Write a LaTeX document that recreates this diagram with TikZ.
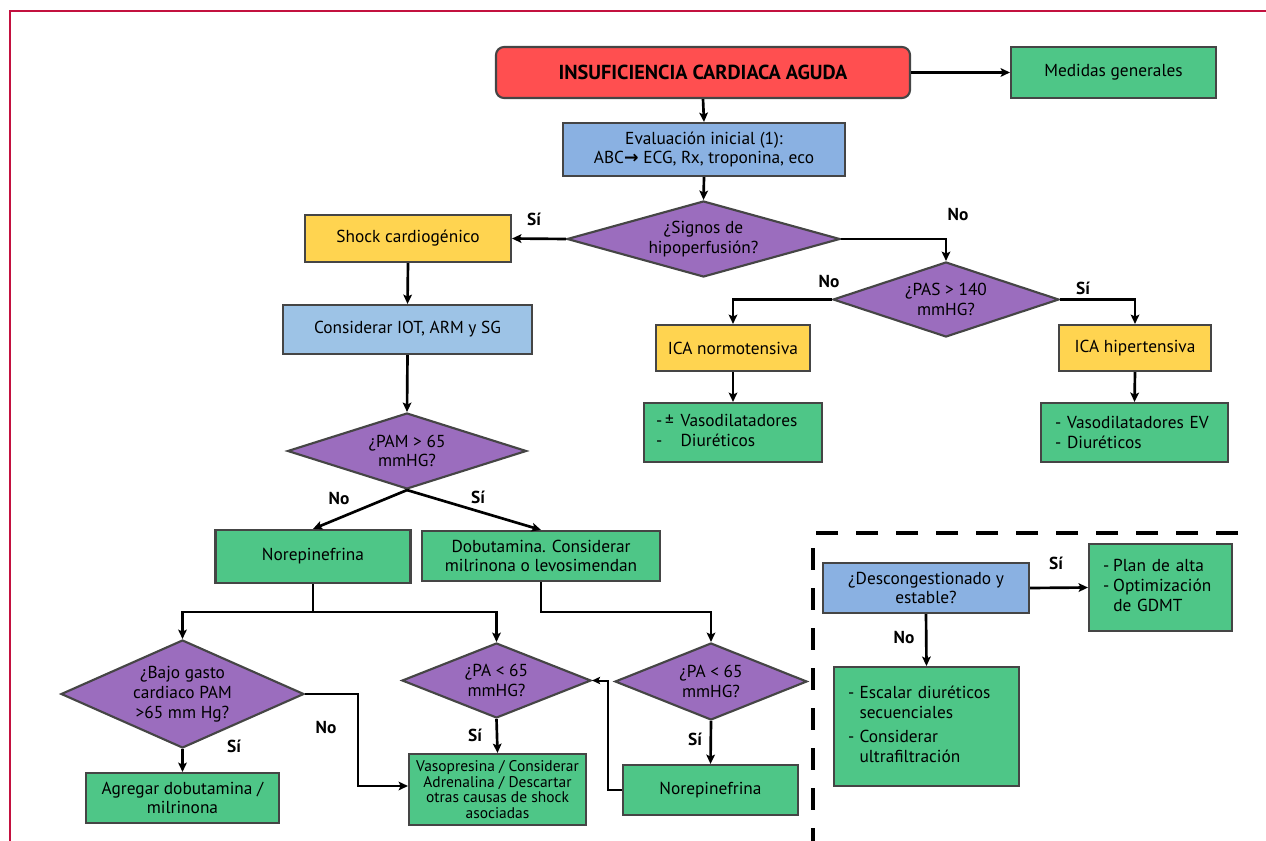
\documentclass[tikz,border=0pt]{standalone}
\usepackage{fontspec}
\setmainfont{PT Sans}
\newfontfamily\symfont{DejaVu Sans}
\usetikzlibrary{shapes.geometric,arrows.meta}

\definecolor{boxred}{HTML}{FF4F50}
\definecolor{boxgreen}{HTML}{4EC687}
\definecolor{boxpurple}{HTML}{9B6DBE}
\definecolor{boxyellow}{HTML}{FFD450}
\definecolor{boxblue}{HTML}{8AB1E2}
\definecolor{boxlight}{HTML}{9DC3E6}
\definecolor{edge}{HTML}{454545}
\definecolor{crimson}{HTML}{C3113F}

\newcommand\fs{\fontsize{13}{14.8}\selectfont}
\newcommand\fssmall{\fontsize{11.6}{11.8}\selectfont}
\newcommand\fstitle{\fontsize{15.2}{17}\selectfont\bfseries}

\tikzset{
  sz/.style 2 args={minimum width=#1*0.75pt, minimum height=#2*0.75pt},
  base/.style={draw=edge, line width=1.6pt, inner sep=0pt, align=center, font=\fs},
  gbox/.style={base, fill=boxgreen},
  ybox/.style={base, fill=boxyellow},
  bbox/.style={base, fill=boxblue},
  lbox/.style={base, fill=boxlight},
  rbox/.style={base, fill=boxred, rounded corners=6pt, font=\fstitle},
  dia/.style={diamond, draw=edge, line width=1.6pt, fill=boxpurple, inner sep=0pt},
  dtext/.style={align=center, font=\fs, inner sep=0pt},
  list/.style={align=left, text width=#1*0.75pt},
  link/.style={line width=2pt, -{Stealth[length=7pt,width=6.5pt,inset=1.5pt]}},
  plain/.style={line width=2pt},
  ans/.style={font=\fs\bfseries, inner sep=0pt},
  frame/.style={draw=crimson, line width=2.2pt},
  zone/.style={line width=2.3pt, dash pattern=on 16.5pt off 13.5pt},
}

\begin{document}
\begin{tikzpicture}[x=0.75pt,y=-0.75pt]
\useasboundingbox (0,0) rectangle (1266,841);

% page frame
\draw[frame] (9,11) -- (1266,11);
\draw[frame] (10,11) -- (10,841);

% boxes of the main flow
\node[rbox, sz={414}{51}] (red) at (703,72.5) {INSUFICIENCIA CARDIACA AGUDA};
\node[gbox, sz={205}{51}] (med) at (1113.5,72.5) {Medidas generales};
\node[bbox, sz={282}{53}] (eval) at (704,149.5) {Evaluación inicial (1):\\ABC{\symfont\bfseries→} ECG, Rx, troponina, eco};
\node[dia, sz={273}{76}] (sig) at (703.5,239) {};
\node[dtext] (sigT) at (sig) {¿Signos de\\hipoperfusión?};
\node[ybox, sz={206}{47}] (shock) at (408,238.5) {Shock cardiogénico};
\node[lbox, sz={249}{49}] (cons) at (407.5,329.5) {Considerar IOT, ARM y SG};

% hemodynamic branch
\node[dia, sz={226}{75}] (pas) at (946,299.5) {};
\node[dtext] (pasT) at (pas) {¿PAS > 140\\mmHG?};
\node[ybox, sz={154}{46}] (icaN) at (733,348) {ICA normotensiva};
\node[ybox, sz={152}{46}] (icaH) at (1135,348) {ICA hipertensiva};
\node[gbox, sz={178}{59}, list=154] (vasoL) at (733,432.5)
  {\begin{tabular}{@{}l@{\hspace{5pt}}l@{}}-\,± & Vasodilatadores\\- & Diuréticos\end{tabular}};
\node[gbox, sz={187}{59}, list=159] (vasoR) at (1134.5,432.5)
  {- Vasodilatadores EV\\- Diuréticos};

% shock branch
\node[dia, sz={239}{76}] (pam) at (407,451) {};
\node[dtext] (pamT) at (pam) {¿PAM > 65\\mmHG?};
\node[gbox, sz={195}{53}] (nor1) at (313,556.5) {Norepinefrina};
\node[gbox, sz={238}{50}] (dob) at (541,556) {Dobutamina. Considerar\\milrinona o levosimendan};
\node[dia, sz={243}{108}] (bajo) at (182.5,694) {};
\node[dtext] (bajoT) at (bajo) {¿Bajo gasto\\cardiaco PAM\\>65 mm Hg?};
\node[dia, sz={189}{75}] (pa1) at (496.5,680.5) {};
\node[dtext] (pa1T) at (pa1) {¿PA < 65\\mmHG?};
\node[dia, sz={192}{77}] (pa2) at (711,681.5) {};
\node[dtext] (pa2T) at (pa2) {¿PA < 65\\mmHG?};
\node[gbox, sz={193}{50}] (agr) at (182.5,798) {Agregar dobutamina /\\milrinona};
\node[gbox, sz={177}{71}, font=\fssmall] (vasop) at (497.5,789.5)
  {Vasopresina / Considerar\\Adrenalina / Descartar\\otras causas de shock\\asociadas};
\node[gbox, sz={175}{50}] (nor2) at (710.5,790) {Norepinefrina};

% follow-up zone
\node[bbox, sz={206}{50}] (desc) at (926,588) {¿Descongestionado y\\estable?};
\node[gbox, sz={143}{87}, list=115] (plan) at (1160.5,587.5)
  {\begin{tabular}{@{}l@{\hspace{3pt}}l@{}}- & Plan de alta\\- & Optimización\\ & de GDMT\end{tabular}};
\node[gbox, sz={185}{119}, list=157] (esc) at (926.5,726.5)
  {\begin{tabular}{@{}l@{\hspace{4pt}}l@{}}- & Escalar diuréticos\\ & secuenciales\\[3pt]- & Considerar\\ & ultrafiltración\end{tabular}};

% connectors
\draw[link] (red.east) -- (med.west);
\draw[link] (red.south) -- (eval.north);
\draw[link] (eval.south) -- (sig.north);
\draw[link] (sig.west) -- (shock.east);
\draw[link] (sig.east) -| (pas.north);
\draw[link] (pas.west) -| (icaN.north);
\draw[link] (pas.east) -| (icaH.north);
\draw[link] (icaN.south) -- (vasoL.north);
\draw[link] (icaH.south) -- (vasoR.north);
\draw[link] (shock.south) -- (cons.north);
\draw[link] (cons.south) -- (pam.north);
\draw[link] (pam.south) -- (nor1.north);
\draw[link] (pam.south) -- (dob.north);

\coordinate (j1) at (313,612);
\draw[plain] (nor1.south) -- (j1);
\draw[link] (j1) -| (bajo.north);
\draw[link] (j1) -| (pa1.north);
\coordinate (j2) at (541,612);
\draw[link] (dob.south) -- (j2) -| (pa2.north);

\coordinate (j3) at (358,694);
\coordinate (j4) at (358,786);
\draw[link] (bajo.east) -- (j3) -- (j4) -- (vasop.west |- j4);
\draw[link] (bajo.south) -- (agr.north);
\draw[link] (pa1.south) -- (vasop.north);
\draw[link] (pa2.south) -- (nor2.north);
\coordinate (j5) at (608,790);
\draw[line width=1.5pt, -{Stealth[length=6pt,width=5.5pt,inset=1.2pt]}] (nor2.west) -- (j5) |- (pa1.east);

\draw[link] (desc.east) -- (plan.west);
\draw[link] (desc.south) -- (esc.north);

% dashed separator
\coordinate (z1) at (1238,533);
\coordinate (z2) at (813,533);
\coordinate (z3) at (813,845);
\draw[zone] (z1) -- (z2) -- (z3);

% answer labels
\node[ans] (a1) at (534,219) {Sí};
\node[ans] (a2) at (958,215) {No};
\node[ans] (a3) at (829,282) {No};
\node[ans] (a4) at (1083,288) {Sí};
\node[ans] (a5) at (339,499) {No};
\node[ans] (a6) at (478,497) {Sí};
\node[ans] (a7) at (234,746) {Sí};
\node[ans] (a8) at (326,728) {No};
\node[ans] (a9) at (475,735) {Sí};
\node[ans] (a10) at (695,739) {Sí};
\node[ans] (a11) at (1056,563) {Sí};
\node[ans] (a12) at (904,638) {No};
\end{tikzpicture}
\end{document}
